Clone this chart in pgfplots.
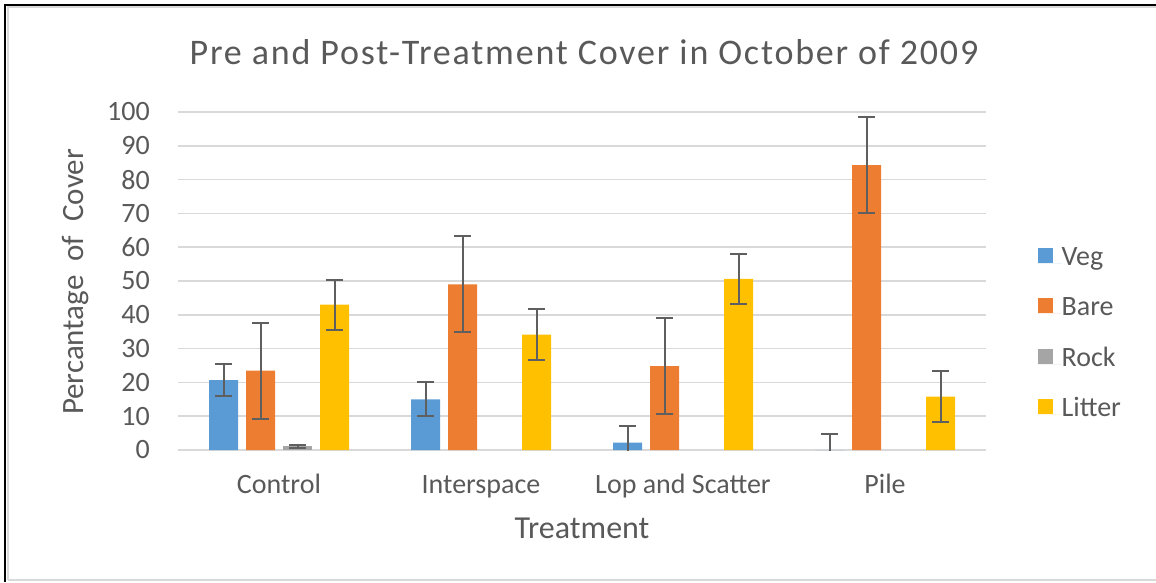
\documentclass[border=0pt]{standalone}
\usepackage{pgfplots}
\pgfplotsset{compat=1.18}
\usepackage{fontspec}
\setmainfont{Carlito}
\newfontfamily\titlefont[LetterSpace=5]{Carlito}
\definecolor{vegc}{HTML}{5B9BD5}
\definecolor{barec}{HTML}{ED7D31}
\definecolor{rockc}{HTML}{A5A5A5}
\definecolor{litc}{HTML}{FFC000}
\definecolor{txt}{HTML}{595959}
\definecolor{gridc}{HTML}{D9D9D9}
\definecolor{errc}{HTML}{5F5F5F}
\begin{document}
\begin{tikzpicture}[x=1pt,y=1pt]
\path[use as bounding box] (0,0) rectangle (1156,582);
\draw[gridc, line width=1.5pt] (7.5,2) -- (1156,2);
\draw[gridc, line width=2pt] (8,2) -- (8,574.5) -- (1156,574.5);
\draw[black, line width=2pt] (5.3,0) -- (5.3,577) -- (1156,577);
\node[anchor=base, text=txt, font=\titlefont\fontsize{36}{42}\selectfont] at (584,517) {Pre and Post-Treatment Cover in October of 2009};
\node[anchor=base, text=txt, font=\fontsize{32}{36}\selectfont] at (582,44) {Treatment};
\node[anchor=base, rotate=90, text=txt, font=\fontsize{31}{36}\selectfont] at (83,300) {Percantage\hspace{7pt} of\hspace{7pt} Cover};
\begin{axis}[
  at={(178pt,132pt)}, anchor=south west,
  width=808pt, height=338pt, scale only axis,
  xmin=-0.5, xmax=3.5, ymin=0, ymax=100,
  ybar=8pt, bar width=29pt,
  xtick={0,1,2,3},
  xticklabels={Control,Interspace,Lop and Scatter,Pile},
  ytick={0,10,...,100},
  major tick length=0pt,
  axis x line*=bottom,
  axis y line*=left,
  x axis line style={draw=gridc, line width=1.5pt, -},
  y axis line style={draw=none},
  ymajorgrids, grid style={draw=gridc, line width=1.5pt},
  tick label style={font=\fontsize{28}{34}\selectfont, text=txt},
  /pgf/number format/assume math mode=true,
  yticklabel style={anchor=east, inner sep=0pt, xshift=-28pt},
  xticklabel style={anchor=base, inner sep=0pt, yshift=-43pt},
  legend style={draw=none, fill=none, inner sep=0pt, at={(1.064,0.607)}, anchor=north west,
    font=\fontsize{28}{34}\selectfont, text=txt, row sep=24.5pt,
    nodes={inner sep=0pt, text height=20pt, text depth=6pt}},
  legend cell align=left,
  legend image code/.code={\fill[#1] (0pt,-4.6pt) rectangle (15pt,10.4pt); \path (0pt,-4.6pt) rectangle (23.7pt,-4.6pt);},
  error bars/error bar style={draw=errc, line width=2pt},
  error bars/error mark options={draw=errc, rotate=90, mark size=8.3pt, line width=2pt},
]
\addplot[fill=vegc, draw=none, error bars/.cd, y dir=both, y explicit] coordinates {
  (0,20.7) +- (0,4.8)
  (1,15.0) +- (0,5.0)
  (2,2.2) +- (0,4.9)
  (3,0) +- (0,4.7)
};
\addplot[fill=barec, draw=none, error bars/.cd, y dir=both, y explicit] coordinates {
  (0,23.5) +- (0,14.2)
  (1,49.0) +- (0,14.2)
  (2,24.8) +- (0,14.2)
  (3,84.3) +- (0,14.2)
};
\addplot[fill=rockc, draw=none, error bars/.cd, y dir=both, y explicit] coordinates {
  (0,1.1) +- (0,0.5)
};
\addplot[fill=litc, draw=none, error bars/.cd, y dir=both, y explicit] coordinates {
  (0,43.0) +- (0,7.4)
  (1,34.1) +- (0,7.5)
  (2,50.6) +- (0,7.4)
  (3,15.8) +- (0,7.6)
};
\legend{Veg,Bare,Rock,Litter}
\end{axis}
\end{tikzpicture}
\end{document}
